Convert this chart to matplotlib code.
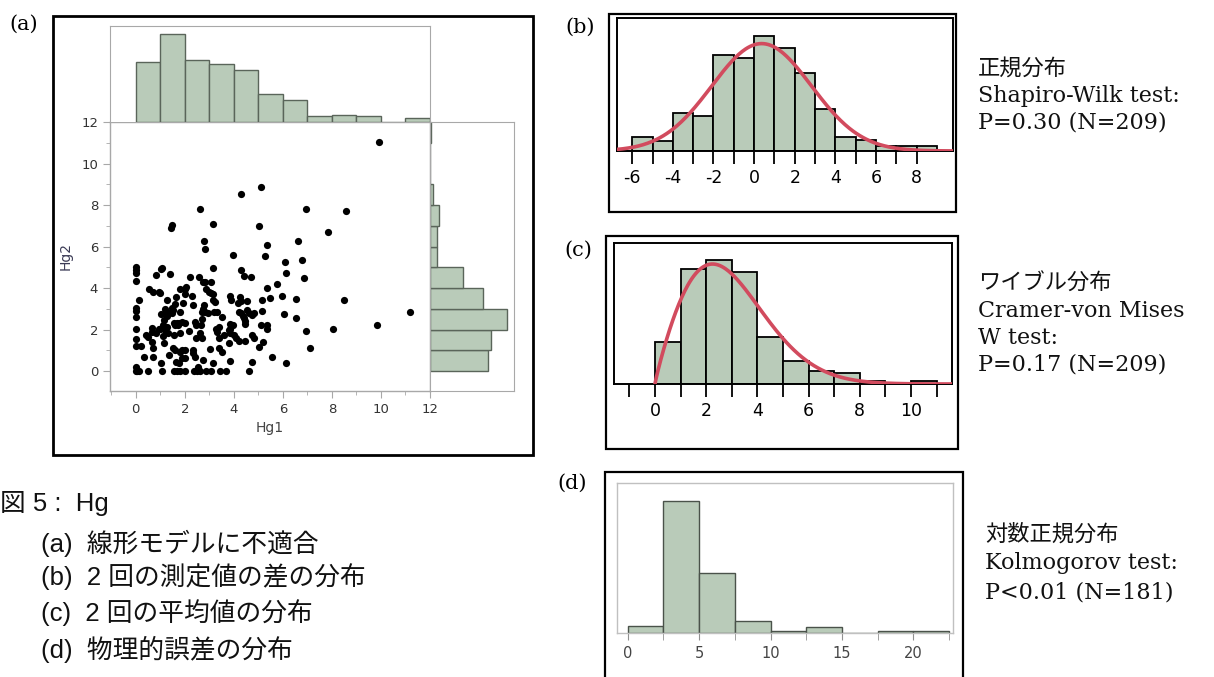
import numpy as np
import matplotlib
matplotlib.use("Agg")
import matplotlib.pyplot as plt
from matplotlib.patches import Rectangle

plt.rcParams['axes.unicode_minus'] = False

# ---------------- data ----------------
# (a) scatter Hg1 vs Hg2
hg1 = [9.93, 5.11, 4.28, 2.61, 6.96, 8.58, 1.49, 1.43, 3.14, 5.01, 7.85, 2.77, 2.84, 6.63, 5.37, 3.98,
       5.29, 6.79, 6.10, 3.14, 4.28, 6.14, 4.40, 4.71, 6.88, 5.75, 5.37, 5.98, 5.49, 6.55, 8.49, 5.16,
       6.06, 6.55, 11.18, 9.85, 8.06, 6.93, 7.09, 5.57, 6.14, 4.61, 4.76, 5.01, 5.20, 5.34, 5.37, 5.12, 5.16,
       0, 0, 0, 0, 0, 0, 0, 0, 0, 0, 0, 0, 0.07, 0.14,
       1.03, 1.07, 0.83, 1.39, 2.21, 2.57, 2.73, 2.83, 3.07, 2.05, 2.0, 0.56, 0.72, 0.96, 0.99, 1.79,
       2.88, 2.98, 3.08, 3.17, 2.31, 2.0, 1.63, 0.12, 1.29, 3.83, 3.87, 4.27, 4.28, 4.53, 3.14, 3.25,
       1.61, 1.48, 1.53, 1.94, 2.34, 2.79, 1.18, 1.26, 1.48, 1.79, 1.03, 1.29, 2.73, 2.70, 2.84, 2.94,
       3.21, 3.33, 3.51, 4.16, 4.22, 4.29, 4.36, 4.54, 4.61, 4.73, 4.82, 4.42, 4.45, 4.45, 2.72,
       2.43, 2.46, 2.65, 1.14, 1.13, 1.26, 1.18, 1.57, 1.67, 1.78, 1.89, 2.0, 1.61, 1.72, 0.99, 0.94,
       0.83, 0.65, 0.68, 1.32, 1.13, 1.57, 1.79, 2.16, 2.45, 2.62, 2.69, 3.30, 3.40, 3.27, 3.83, 3.95,
       3.80, 3.83, 3.85, 3.60, 3.41, 4.0, 4.09, 3.82, 4.22, 4.45, 4.74, 4.82,
       0.42, 0.49, 0.66, 0.22, 0.69, 1.14, 1.53, 1.61, 1.79, 1.90, 2.0, 2.33, 2.35, 2.41, 3.02, 3.38,
       3.53, 1.35, 0.34, 0.72, 1.64, 1.78, 1.05, 1.89, 2.0, 2.73, 3.14, 3.86, 2.54,
       0.49, 1.07, 1.58, 1.67, 1.79, 2.0, 2.38, 2.49, 2.60, 2.87, 3.07, 3.44, 3.67]
hg2 = [11.05, 8.88, 8.51, 7.81, 7.81, 7.69, 7.04, 6.89, 7.10, 6.99, 6.71, 6.25, 5.90, 6.28, 6.07, 5.59,
       5.53, 5.37, 5.27, 4.95, 4.88, 4.72, 4.56, 4.51, 4.50, 4.18, 4.02, 3.63, 3.53, 3.47, 3.42, 3.42,
       2.73, 2.57, 2.83, 2.23, 2.01, 1.91, 1.09, 0.66, 0.40, 0.0, 0.45, 1.17, 1.41, 2.22, 2.05, 2.22, 2.89,
       5.03, 4.87, 4.71, 4.34, 3.02, 2.89, 2.62, 2.01, 1.53, 1.20, 0.20, 0.0, 0.0, 0.0,
       4.92, 4.98, 4.61, 4.66, 4.51, 4.51, 4.31, 4.31, 4.31, 4.03, 3.94, 3.94, 3.82, 3.82, 3.74, 3.94,
       3.94, 3.82, 3.74, 3.71, 3.62, 3.71, 3.58, 3.42, 3.42, 3.62, 3.42, 3.55, 3.37, 3.37, 3.42, 3.34,
       3.23, 3.05, 2.94, 3.26, 3.16, 3.16, 2.98, 2.86, 2.78, 2.83, 2.73, 2.65, 2.98, 2.84, 2.84, 2.78,
       2.84, 2.84, 2.62, 3.26, 2.84, 2.78, 2.65, 2.94, 2.78, 2.71, 2.78, 2.54, 2.43, 2.27, 2.51,
       2.36, 2.23, 2.23, 2.44, 2.23, 2.10, 1.98, 2.33, 2.33, 2.33, 2.38, 2.33, 2.20, 2.23, 2.01, 2.01,
       1.85, 2.06, 1.88, 1.82, 1.69, 1.74, 1.85, 1.94, 1.57, 1.82, 1.57, 1.90, 2.14, 2.01, 2.25, 2.22,
       1.98, 2.01, 1.82, 1.73, 1.57, 1.74, 1.57, 1.37, 1.45, 1.45, 1.74, 1.57,
       1.73, 1.65, 1.41, 1.20, 1.09, 1.37, 1.09, 1.01, 0.93, 1.01, 1.01, 1.01, 0.85, 0.69, 1.04, 1.09,
       0.93, 0.77, 0.66, 0.66, 0.45, 0.37, 0.37, 0.61, 0.61, 0.55, 0.40, 0.50, 0.18,
       0, 0, 0, 0, 0, 0, 0, 0, 0, 0, 0, 0, 0]

# (a) marginal histograms (bins 0..12, width 1)
hg1_bin_left = [0, 1, 2, 3, 4, 5, 6, 7, 8, 9, 10, 11]
hg1_counts = [32, 47, 33, 31, 28, 15, 12, 3, 4, 3, 0, 2]
hg2_bin_left = [0, 1, 2, 3, 4, 5, 6, 7, 8, 9, 10, 11]
hg2_counts = [39, 41, 52, 36, 22, 5, 5, 6, 2, 0, 0, 1]
scatter_ticks = [0, 2, 4, 6, 8, 10, 12]

# (b) difference of two measurements
diff_bin_left = [-6, -5, -4, -3, -2, -1, 0, 1, 2, 3, 4, 5, 6, 7, 8]
diff_counts = [3, 2.2, 8.1, 7.5, 20.5, 19.8, 24.6, 21.9, 16.6, 8.9, 3, 2.3, 1, 1, 1]
diff_ticks = [-6, -4, -2, 0, 2, 4, 6, 8]
normal_mean, normal_sd, normal_peak = 0.37, 2.45, 22.9

# (c) mean of two measurements
mean_bin_left = [0, 1, 2, 3, 4, 5, 6, 7, 8, 9, 10]
mean_counts = [18, 49, 53, 48, 20, 10, 5.6, 4.9, 1.4, 0, 1.4]
mean_ticks = [0, 2, 4, 6, 8, 10]
weibull_shape, weibull_scale, weibull_peak = 1.9, 3.33, 51.3

# (d) physical error
err_bin_left = [0, 2.5, 5, 7.5, 10, 12.5, 15, 17.5, 20]
err_counts = [6, 106, 48, 10, 2, 5, 0, 2, 2]
err_ticks = [0, 5, 10, 15, 20]

# ---------------- figure ----------------
W, H = 1214, 677
fig = plt.figure(figsize=(W / 100, H / 100), dpi=100)

def px_axes(x0, y0, x1, y1, **kw):
    return fig.add_axes([x0 / W, 1 - y1 / H, (x1 - x0) / W, (y1 - y0) / H], **kw)

def box(x0, y0, x1, y1, lw=1.6, color='black'):
    fig.add_artist(Rectangle((x0 / W, 1 - y1 / H), (x1 - x0) / W, (y1 - y0) / H,
                             fill=False, lw=lw, ec=color, transform=fig.transFigure))

def ftext(x, y, s, **kw):
    fig.text(x / W, 1 - y / H, s, **kw)

GREEN = '#b9cbb9'
SERIF = ['DejaVu Serif', 'Noto Sans CJK JP']
SANSJ = ['Liberation Sans', 'Noto Sans CJK JP']
GRAY = '#a8a8a8'

# ===== panel (a) =====
box(53, 16, 533, 455, lw=2.0)
ftext(24, 24, '(a)', family=SERIF, fontsize=15, ha='center', va='center')

xl = (-1.05, 12.0)
yl = (-0.96, 12.0)
axs = px_axes(110, 122, 430, 391)
axs.scatter(hg1, hg2, s=27, c='black', linewidths=0, zorder=3)
axs.set_xlim(*xl)
axs.set_ylim(*yl)
axs.set_xticks(scatter_ticks)
axs.set_yticks(scatter_ticks)
axs.set_xticks([-1, 1, 3, 5, 7, 9, 11], minor=True)
axs.set_yticks([1, 3, 5, 7, 9, 11], minor=True)
for sp in axs.spines.values():
    sp.set_color(GRAY)
    sp.set_linewidth(1.0)
axs.tick_params(which='both', colors=GRAY, labelcolor='#333333', labelsize=9.5, direction='out')
axs.tick_params(which='major', length=5)
axs.tick_params(which='minor', length=3)
axs.set_xlabel('Hg1', fontsize=10, color='#444444', labelpad=4)
axs.set_ylabel('Hg2', fontsize=10, color='#3a3a55', labelpad=6)

# top marginal
axt = px_axes(110, 26, 430, 122)
axt.bar(hg1_bin_left, hg1_counts, width=1, align='edge', color=GREEN, edgecolor='#5a655a', linewidth=1.0)
axt.set_xlim(*xl)
axt.set_ylim(0, 47 * 96 / 88)
axt.set_xticks([])
axt.set_yticks([])
for k, sp in axt.spines.items():
    sp.set_color(GRAY)
    sp.set_visible(k != 'bottom')

# right marginal
axr = px_axes(430, 122, 514, 391)
axr.barh(hg2_bin_left, hg2_counts, height=1, align='edge', color=GREEN, edgecolor='#5a655a', linewidth=1.0)
axr.set_ylim(*yl)
axr.set_xlim(0, 52 * 84 / 77)
axr.set_xticks([])
axr.set_yticks([])
for sp in axr.spines.values():
    sp.set_color(GRAY)

# ===== panel (b) =====
box(609, 14, 956, 212, lw=1.6)
ftext(580, 27, '(b)', family=SERIF, fontsize=15, ha='center', va='center')
axb = px_axes(617, 18, 953, 151)
axb.bar(diff_bin_left, diff_counts, width=1, align='edge', color=GREEN, edgecolor='black', linewidth=1.3)
xb = np.linspace(-6.8, 9.8, 300)
axb.plot(xb, normal_peak * np.exp(-(xb - normal_mean) ** 2 / (2 * normal_sd ** 2)),
         color='#d24b5e', lw=2.6, zorder=4, solid_capstyle='butt')
axb.set_xlim(-6.75, 9.79)
axb.set_ylim(0, 397 / 14)
axb.set_xticks(diff_ticks)
axb.set_xticks([-5, -3, -1, 1, 3, 5, 7], minor=True)
axb.set_yticks([])
for sp in axb.spines.values():
    sp.set_linewidth(1.4)
axb.tick_params(which='both', length=9, width=1.3, direction='out', labelsize=12.5, pad=4)

# ===== panel (c) =====
box(606, 236, 958, 449, lw=1.6)
ftext(578, 250, '(c)', family=SERIF, fontsize=15, ha='center', va='center')
axc = px_axes(614, 243, 952, 384)
axc.bar(mean_bin_left, mean_counts, width=1, align='edge', color=GREEN, edgecolor='black', linewidth=1.3)
xc = np.linspace(0, 11.6, 300)
mode = weibull_scale * ((weibull_shape - 1) / weibull_shape) ** (1 / weibull_shape)
def wpdf(x):
    return (x / weibull_scale) ** (weibull_shape - 1) * np.exp(-(x / weibull_scale) ** weibull_shape)
axc.plot(xc, weibull_peak * wpdf(xc) / wpdf(mode), color='#d24b5e', lw=2.6, zorder=4)
axc.set_xlim(-1.6, 11.6)
axc.set_ylim(0, 422 / 7)
axc.set_xticks(mean_ticks)
axc.set_xticks([-1, 1, 3, 5, 7, 9, 11], minor=True)
axc.set_yticks([])
for sp in axc.spines.values():
    sp.set_linewidth(1.4)
axc.tick_params(which='both', length=9, width=1.3, direction='out', labelsize=12.5, pad=4)

# ===== panel (d) =====
box(605, 472, 963, 679, lw=1.6)
ftext(572, 483, '(d)', family=SERIF, fontsize=15, ha='center', va='center')
axd = px_axes(617, 483, 953, 633)
axd.bar(err_bin_left, err_counts, width=2.5, align='edge', color=GREEN, edgecolor='#4a524a', linewidth=1.0)
axd.set_xlim(-0.75, 22.78)
axd.set_ylim(0, 106 * 150 / 131.7)
axd.set_xticks(err_ticks)
axd.set_xticks([2.5, 7.5, 12.5, 17.5, 22.5], minor=True)
axd.set_yticks([])
for sp in axd.spines.values():
    sp.set_color('#c0c0c0')
    sp.set_linewidth(1.0)
axd.tick_params(which='both', length=5, colors='#909090', labelcolor='#444444', labelsize=10.5, pad=4)

# ===== right-side texts =====
tkw = dict(family=SERIF, fontsize=16, va='center', ha='left', color='#111111')
ftext(978, 69, '正規分布', **tkw)
ftext(978, 96, 'Shapiro-Wilk test:', **tkw)
ftext(978, 123, 'P=0.30 (N=209)', **tkw)
ftext(978, 284, 'ワイブル分布', **tkw)
ftext(978, 311, 'Cramer-von Mises', **tkw)
ftext(978, 338, 'W test:', **tkw)
ftext(978, 365, 'P=0.17 (N=209)', **tkw)
ftext(985, 535, '対数正規分布', **tkw)
ftext(985, 563, 'Kolmogorov test:', **tkw)
ftext(985, 592, 'P<0.01 (N=181)', **tkw)

# ===== caption =====
ckw = dict(family=SANSJ, fontsize=18.5, va='center', ha='left', color='#111111')
ftext(0, 503, '図 5 :  Hg', **ckw)
ftext(41, 543, '(a)  線形モデルに不適合', **ckw)
ftext(41, 577, '(b)  2 回の測定値の差の分布', **ckw)
ftext(41, 613, '(c)  2 回の平均値の分布', **ckw)
ftext(41, 649, '(d)  物理的誤差の分布', **ckw)

fig.savefig('out.png', dpi=100)
